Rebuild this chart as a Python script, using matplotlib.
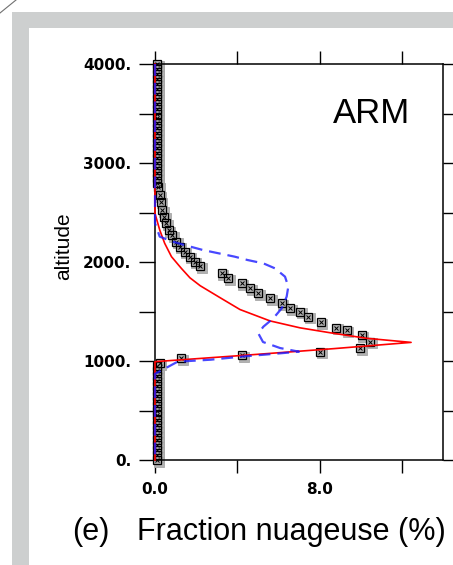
import matplotlib
matplotlib.use("Agg")
import matplotlib.pyplot as plt
import matplotlib.transforms as mtransforms
from matplotlib.patches import Rectangle
from matplotlib.lines import Line2D

plt.rcParams['lines.scale_dashes'] = False

# Observed cloud fraction (%) against altitude (m)
obs_alt_low = [0, 50, 100, 150, 200, 250, 300, 350, 400, 450,
               500, 550, 600, 650, 700, 750, 800, 850, 900, 950]
obs_alt_high = [2800, 2850, 2900, 2950, 3000, 3050, 3100, 3150, 3200,
                3250, 3300, 3350, 3400, 3450, 3500, 3550, 3600, 3650,
                3700, 3750, 3800, 3850, 3900, 3950, 4000]
obs_clear_val = 0.1
obs_layer_alt = [977, 1027, 1061, 1094, 1128, 1195, 1263, 1313, 1337, 1390,
                 1448, 1498, 1532, 1583, 1633, 1684, 1734, 1785, 1835, 1886,
                 1960, 2003, 2054, 2104, 2155, 2205, 2273, 2323, 2391, 2458,
                 2525, 2609, 2677, 2760]
obs_layer_val = [0.23, 1.28, 4.24, 8.02, 9.97, 10.45, 10.05, 9.32, 8.8, 8.05,
                 7.45, 7.05, 6.56, 6.16, 5.59, 5.02, 4.62, 4.21, 3.56, 3.24,
                 2.2, 1.93, 1.69, 1.44, 1.2, 1.04, 0.83, 0.67, 0.55, 0.44,
                 0.34, 0.28, 0.23, 0.15]

# Simulated profiles
red_alt = [4000, 2490, 2323, 2189, 2054, 1936, 1840, 1760, 1640, 1520,
           1405, 1335, 1280, 1229, 1188, 1125, 1060, 997, 993, 0]
red_val = [0, 0, 0.23, 0.47, 0.8, 1.28, 1.7, 2.2, 3.16, 4.13,
           5.59, 7.05, 8.67, 10.3, 12.45, 8.7, 4.5, 0.25, 0, 0]

blue_alt = [4000, 2391, 2256, 2205, 2162, 2121, 2054, 2020, 1986, 1936,
            1852, 1751, 1650, 1532, 1431, 1347, 1280, 1192, 1131, 1094,
            1044, 1013, 993, 870, 0]
blue_val = [0, 0, 0.23, 0.87, 1.6, 2.33, 3.87, 4.5, 5.27, 5.83,
            6.32, 6.48, 6.4, 6.16, 5.75, 5.27, 5.02, 5.25, 6.08, 7.0,
            4.2, 2.7, 1.1, 0, 0]

x_ticks = [0, 4, 8, 12]
x_tick_labels = ['0.0', '', '8.0', '']
y_ticks = [0, 500, 1000, 1500, 2000, 2500, 3000, 3500, 4000]
y_tick_labels = ['0.', '', '1000.', '', '2000.', '', '3000.', '', '4000.']

W, H = 453, 565
fig = plt.figure(figsize=(W / 100, H / 100), dpi=100)
fig.patch.set_facecolor('white')

# grey panel frame
fig.patches.append(Rectangle((12 / W, 0), 1, 1 - 12 / H, transform=fig.transFigure,
                             facecolor='#cdcfcf', edgecolor='none', zorder=-10))
fig.patches.append(Rectangle((29 / W, 0), 1, 1 - 28 / H, transform=fig.transFigure,
                             facecolor='white', edgecolor='none', zorder=-9))
fig.lines.append(Line2D([0, 16 / W], [1 - 13 / H, 1], transform=fig.transFigure,
                        color='#707070', lw=0.8, zorder=-8))

ax = fig.add_axes([155 / W, 1 - 460 / H, 288 / W, 396 / H])
ax.set_zorder(5)
ax.set_xlim(0, 14)
ax.set_ylim(0, 4000)

# observations: grey shadow squares + black open squares with a cross
shadow = mtransforms.offset_copy(ax.transData, fig=fig, x=1.6, y=-1.6, units='dots')
obs_sets = [([obs_clear_val] * len(obs_alt_low), obs_alt_low),
            ([obs_clear_val] * len(obs_alt_high), obs_alt_high),
            (obs_layer_val, obs_layer_alt)]
for xv, yv in obs_sets:
    ax.plot(xv, yv, ls='none', marker='s', ms=6.6, mfc='#b2b2b2', mec='#a8a8a8',
            mew=0.6, transform=shadow, clip_on=False, zorder=2)
for xv, yv in obs_sets:
    ax.plot(xv, yv, ls='none', marker='s', ms=5.6, mfc='none', mec='black',
            mew=0.9, clip_on=False, zorder=3)
    ax.plot(xv, yv, ls='none', marker='x', ms=2.2, mec='black', mew=0.7,
            clip_on=False, zorder=3)

ax.plot(red_val, red_alt, color='#ff0000', lw=1.2, clip_on=False, zorder=4)
ax.plot(blue_val, blue_alt, color='#1a1aff', lw=1.6, alpha=0.8,
        dashes=(8.5, 5.0), clip_on=False, zorder=5)

ax.set_xticks(x_ticks)
ax.set_xticklabels(x_tick_labels)
ax.set_yticks(y_ticks)
ax.set_yticklabels(y_tick_labels)

for lab in ax.get_xticklabels() + ax.get_yticklabels():
    lab.set_fontfamily('DejaVu Sans')
    lab.set_fontweight('bold')
    lab.set_fontsize(11)

ax.tick_params(axis='x', which='both', direction='out', length=9.4, width=1.0,
               top=True, bottom=True, pad=6.5)
ax.tick_params(axis='y', which='both', direction='out', length=11.5, width=1.0,
               left=True, right=True, pad=5.5)
for sp in ax.spines.values():
    sp.set_linewidth(1.1)

ax.set_ylabel('altitude', family='Liberation Sans', fontsize=15)
ax.yaxis.set_label_coords(-0.285, 0.54)

ax.text(0.618, 0.851, 'ARM', transform=ax.transAxes, family='Liberation Sans',
        fontsize=25, va='baseline', ha='left')

fig.text(72 / W, 1 - 540 / H, '(e)', family='Liberation Sans', fontsize=22,
         va='baseline', ha='left')
fig.text(137 / W, 1 - 540 / H, 'Fraction nuageuse (%)', family='Liberation Sans',
         fontsize=22, va='baseline', ha='left')

fig.savefig('out.png', dpi=100)
